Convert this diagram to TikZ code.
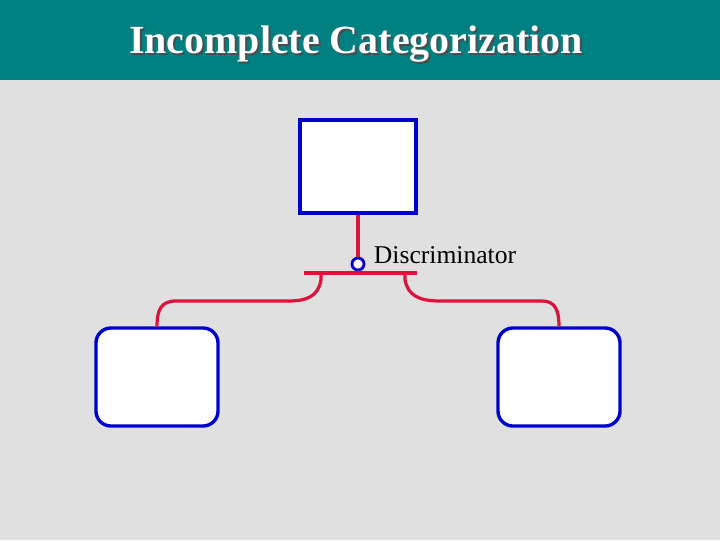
\documentclass[tikz,border=0pt]{standalone}
\usepackage{fontspec}
\setmainfont{Liberation Serif}
\usepackage{xcolor}
\usetikzlibrary{positioning}

\definecolor{titleTeal}{RGB}{0,128,128}
\definecolor{slideGray}{RGB}{224,224,224}
\definecolor{entityBlue}{RGB}{0,0,204}
\definecolor{linkRed}{RGB}{220,20,60}

\begin{document}
\begin{tikzpicture}[
			x=0.025cm,
			y=-0.025cm,
			% Supertype entity
			entityBox/.style={
				rectangle,
				draw=entityBlue,
				line width=2.4pt,
				fill=white,
				minimum width=2.9cm,
				minimum height=2.325cm,
				inner sep=0pt
			},
			% Subtype entities
			subtypeBox/.style={
				rectangle,
				rounded corners=0.375cm,
				draw=entityBlue,
				line width=2.4pt,
				fill=white,
				minimum width=3.05cm,
				minimum height=2.45cm,
				inner sep=0pt
			},
			discCircle/.style={
				circle,
				draw=entityBlue,
				line width=2pt,
				fill=white,
				minimum size=0.3cm,
				inner sep=0pt
			},
			link/.style={
				draw=linkRed,
				line width=2.3pt
			},
			titleText/.style={
				font=\fontsize{28.4}{32}\selectfont\bfseries
			}
			]
			
			% Slide background and title bar
			\useasboundingbox (0,0) rectangle (720,540);
			\fill[slideGray] (0,0) rectangle (720,540);
			\fill[titleTeal] (0,0) rectangle (720,80);
			
			\node[titleText, black!70] (titleShadow) at (358,46) {Incomplete Categorization};
			\node[titleText, white] (title) at (356,44) {Incomplete Categorization};
			
			% Entities
			\node[entityBox] (super) at (358,166.5) {};
			\node[subtypeBox] (subLeft) at (157,377) {};
			\node[subtypeBox] (subRight) at (559,377) {};
			
			% Discriminator and category bar
			\node[discCircle] (disc) at (358,264) {};
			\node[
			font=\fontsize{18.2}{21}\selectfont,
			anchor=west
			] (discLabel) at (369,255) {Discriminator};
			
			\coordinate (barLeft) at (304,273);
			\coordinate (barRight) at (417,273);
			\coordinate (branchLeft) at (321,273);
			\coordinate (branchRight) at (405,273);
			
			\draw[link] (super.south) -- (disc.north);
			\draw[link] (barLeft) -- (barRight);
			
			% Branches to subtypes
			\draw[link] (branchLeft) -- ++(0,7)
			.. controls (318,297) and (306,301) .. (288,301)
			-- (176,301)
			.. controls (161,301) and (157,310) .. (subLeft.north);
			
			\draw[link] (branchRight) -- ++(0,7)
			.. controls (408,296) and (420,301) .. (440,301)
			-- (542,301)
			.. controls (555,301) and (559,310) .. (subRight.north);
			
		\end{tikzpicture}
\end{document}
